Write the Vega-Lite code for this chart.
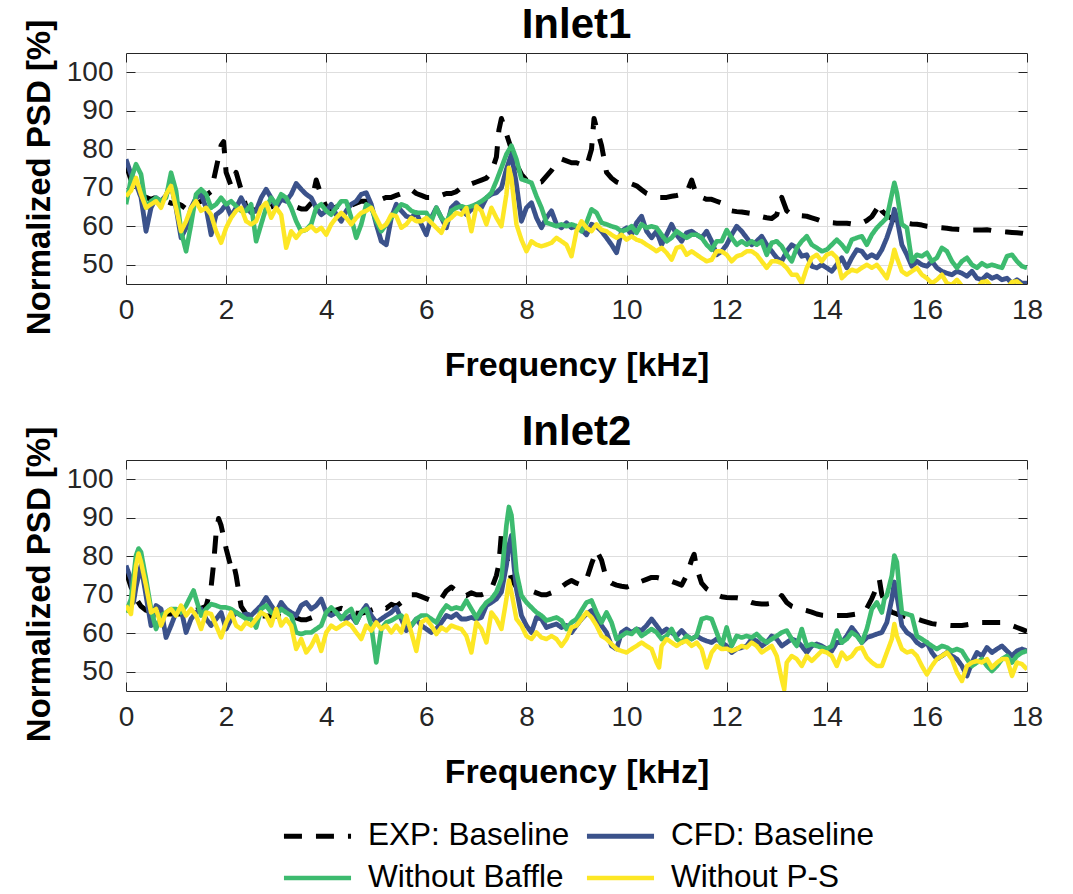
{
"$schema": "https://vega.github.io/schema/vega-lite/v6.json",
"background": "white",
"padding": {"left": 22, "top": 3, "right": 30, "bottom": 0},
"spacing": 27,
"config": {
  "font": "Liberation Sans",
  "view": {"stroke": "#262626", "strokeWidth": 1},
  "title": {"fontSize": 42, "fontWeight": "bold", "color": "#000000", "offset": -28, "anchor": "middle", "font": "Liberation Sans"},
  "axis": {"labelFont": "Liberation Sans", "titleFont": "Liberation Sans", "labelFontSize": 28, "labelColor": "#262626", "tickColor": "#262626", "tickSize": -9, "tickWidth": 1, "gridColor": "#dedede", "gridWidth": 1, "domain": false, "titleFontSize": 33, "titleFontWeight": "bold", "titleColor": "#000000", "labelFlush": false}
},
"datasets": {
"in1": [
{"f":0,"a":76,"b":77.4,"c":65.7,"d":67.8},
{"f":0.1,"a":72,"b":73.5,"c":72.2,"d":69.2},
{"f":0.2,"a":70,"b":71,"c":76.1,"d":72.6},
{"f":0.3,"a":68,"b":67.5,"c":73.5,"d":68.3},
{"f":0.4,"a":67.5,"b":58.7,"c":64.8,"d":64.8},
{"f":0.5,"a":67,"b":64.8,"c":66.5,"d":65.7},
{"f":0.6,"a":67.5,"b":67.4,"c":67.4,"d":66.5},
{"f":0.7,"a":67,"b":66.5,"c":66.5,"d":64.8},
{"f":0.8,"a":66.5,"b":68,"c":67.4,"d":68.3},
{"f":0.9,"a":66,"b":71,"c":73.9,"d":70.5},
{"f":1,"a":66,"b":64.8,"c":69.2,"d":64.8},
{"f":1.1,"a":65.5,"b":57,"c":58.7,"d":58.7},
{"f":1.2,"a":64.5,"b":59.6,"c":53.5,"d":61.3},
{"f":1.3,"a":65,"b":64.8,"c":60.5,"d":64.8},
{"f":1.4,"a":66,"b":67.4,"c":68.3,"d":66.5},
{"f":1.5,"a":66.5,"b":68.3,"c":69.6,"d":64},
{"f":1.6,"a":68,"b":64.8,"c":68.3,"d":64.8},
{"f":1.7,"a":69,"b":57.8,"c":64.8,"d":63},
{"f":1.8,"a":75,"b":63,"c":65.7,"d":58.7},
{"f":1.9,"a":81,"b":64,"c":67.4,"d":55.7},
{"f":1.95,"a":82},
{"f":2,"a":74,"b":65.7,"c":65.7,"d":59.6},
{"f":2.1,"a":70.5,"b":62.6,"c":66.5,"d":62.2},
{"f":2.2,"a":74,"b":64.8,"c":65.2,"d":64},
{"f":2.3,"a":69.5,"b":67.4,"c":64,"d":64.8},
{"f":2.4,"a":65,"b":64.8,"c":64,"d":61.3},
{"f":2.5,"a":64.5,"b":63.5,"c":65.7,"d":60.5},
{"f":2.6,"a":64,"b":64,"c":56.1,"d":61.3},
{"f":2.7,"a":64,"b":67.4,"c":60.5,"d":64.8},
{"f":2.8,"a":64.5,"b":69.6,"c":64.8,"d":66.1},
{"f":2.9,"a":65,"b":67.4,"c":67.4,"d":62.2},
{"f":3,"a":66,"b":64.8,"c":65.7,"d":64.8},
{"f":3.1,"a":67,"b":67,"c":68.3,"d":63},
{"f":3.2,"a":67,"b":66.5,"c":67.4,"d":54.4},
{"f":3.3,"a":66,"b":68.3,"c":64.8,"d":58.7},
{"f":3.4,"a":65,"b":71.1,"c":61.3,"d":57},
{"f":3.5,"a":64.5,"b":69.6,"c":58.7,"d":58.7},
{"f":3.6,"a":64.5,"b":68.3,"c":59.1,"d":59.1},
{"f":3.7,"a":66,"b":67.4,"c":60.5,"d":60},
{"f":3.8,"a":72,"b":64.8,"c":64.8,"d":58.7},
{"f":3.9,"a":68,"b":63,"c":65.7,"d":59.6},
{"f":4,"a":65,"b":64,"c":64,"d":57.8},
{"f":4.1,"a":64.5,"b":65.7,"c":63,"d":60.5},
{"f":4.2,"a":65,"b":63,"c":64.8,"d":62.2},
{"f":4.3,"a":65.5,"b":61.3,"c":66.5,"d":63.5},
{"f":4.4,"a":65.5,"b":64,"c":66.5,"d":62.2},
{"f":4.5,"a":65.5,"b":65.7,"c":62.2,"d":60.5},
{"f":4.6,"a":66,"b":66.5,"c":57,"d":62.2},
{"f":4.7,"a":66.5,"b":68.3,"c":60.5,"d":63.5},
{"f":4.8,"a":66.5,"b":68.7,"c":65.7,"d":64},
{"f":4.9,"a":66.5,"b":65.7,"c":64.8,"d":64.8},
{"f":5,"a":67,"b":60.5,"c":61.3,"d":62.2},
{"f":5.1,"a":67,"b":56.1,"c":58.7,"d":59.6},
{"f":5.2,"a":67.5,"b":55.2,"c":60.5,"d":60.5},
{"f":5.3,"a":67.5,"b":62.2,"c":62.2,"d":63},
{"f":5.4,"a":68,"b":65.7,"c":64,"d":62.6},
{"f":5.5,"a":68.5,"b":64,"c":65.7,"d":59.6},
{"f":5.6,"a":69,"b":62.6,"c":65.2,"d":60.5},
{"f":5.7,"a":69.5,"b":62.2,"c":64,"d":62.2},
{"f":5.8,"a":68.5,"b":63.5,"c":63.5,"d":61.3},
{"f":5.9,"a":68,"b":60.5,"c":63.5,"d":61.3},
{"f":6,"a":67.5,"b":57.8,"c":63.5,"d":62.2},
{"f":6.1,"a":67.5,"b":62.2,"c":61.3,"d":60.9},
{"f":6.2,"a":67.5,"b":64.8,"c":64.8,"d":59.6},
{"f":6.3,"a":68,"b":62.2,"c":62.2,"d":58.3},
{"f":6.4,"a":68.5,"b":59.6,"c":60.9,"d":61.3},
{"f":6.5,"a":68.5,"b":64.8,"c":64,"d":62.2},
{"f":6.6,"a":69,"b":66.1,"c":64.8,"d":63.5},
{"f":6.7,"a":70,"b":64.8,"c":65.2,"d":63},
{"f":6.8,"a":70.5,"b":63,"c":64.8,"d":64.8},
{"f":6.9,"a":71,"b":64.4,"c":65.2,"d":58.7},
{"f":7,"a":71.5,"b":65.7,"c":65.7,"d":65.2},
{"f":7.1,"a":72,"b":64.8,"c":66.5,"d":64},
{"f":7.2,"a":72.5,"b":67.4,"c":67.4,"d":60.5},
{"f":7.3,"a":74,"b":68.3,"c":68.7,"d":64.8},
{"f":7.4,"a":78,"b":68.7,"c":71.8,"d":62.2},
{"f":7.45,"a":85},
{"f":7.5,"a":88,"b":70,"c":75.2,"d":60},
{"f":7.6,"a":84,"b":74.8,"c":78.7,"d":68.3},
{"f":7.65,"d":75.2},
{"f":7.7,"a":80,"b":78.7,"c":80.9,"d":72.6},
{"f":7.8,"a":76,"b":70.9,"c":77.4,"d":60.5},
{"f":7.9,"a":73.5,"b":61.3,"c":72.2,"d":56.5},
{"f":8,"a":72,"b":64.8,"c":71.8,"d":53.5},
{"f":8.1,"a":71.5,"b":66.1,"c":71.3,"d":56.1},
{"f":8.2,"a":71.3,"b":62.2,"c":67.8,"d":55.2},
{"f":8.3,"a":71.5,"b":59.6,"c":64.8,"d":54.8},
{"f":8.4,"a":73,"b":62.2,"c":60.9,"d":55.2},
{"f":8.5,"a":74.5,"b":64,"c":60.5,"d":55.7},
{"f":8.6,"a":76.5,"b":60.5,"c":60,"d":57},
{"f":8.7,"a":77.5,"b":59.6,"c":60.5,"d":56.1},
{"f":8.8,"a":77,"b":60.9,"c":60,"d":55.2},
{"f":8.9,"a":76.5,"b":59.6,"c":60.5,"d":52.2},
{"f":9,"a":76.5,"b":60,"c":60,"d":58.7},
{"f":9.1,"a":76,"b":59.1,"c":58.7,"d":61.3},
{"f":9.2,"a":75.5,"b":57.8,"c":60.9,"d":59.6},
{"f":9.3,"a":80,"b":60.5,"c":64.4,"d":58.7},
{"f":9.35,"a":88},
{"f":9.4,"a":85.5,"b":60,"c":63.5,"d":60.5},
{"f":9.5,"a":81,"b":58.7,"c":60.9,"d":59.1},
{"f":9.6,"a":74,"b":57,"c":60.5,"d":58.7},
{"f":9.7,"a":72.5,"b":55.2,"c":60,"d":57.8},
{"f":9.8,"a":71.5,"b":53.1,"c":59.6,"d":57},
{"f":9.9,"a":71,"b":58.7,"c":58.7,"d":57.8},
{"f":10,"a":71,"b":59.6,"c":59.1,"d":56.5},
{"f":10.1,"a":71,"b":57.8,"c":60,"d":57.4},
{"f":10.2,"a":70.5,"b":60.9,"c":58.3,"d":56.5},
{"f":10.3,"a":69.5,"b":62.6,"c":60.5,"d":56.1},
{"f":10.4,"a":68.5,"b":58.7,"c":59.6,"d":55.2},
{"f":10.5,"a":68,"b":57,"c":60,"d":54.4},
{"f":10.6,"a":67.5,"b":58.7,"c":59.6,"d":53.5},
{"f":10.7,"a":67.5,"b":55.2,"c":57.8,"d":54.4},
{"f":10.8,"a":67.5,"b":57.8,"c":56.1,"d":53.1},
{"f":10.9,"a":67.8,"b":60.5,"c":57,"d":51.3},
{"f":11,"a":68,"b":57.8,"c":58.7,"d":54.4},
{"f":11.1,"a":68.3,"b":56.1,"c":57.8,"d":54.8},
{"f":11.2,"a":68.7,"b":58.3,"c":57,"d":52.6},
{"f":11.3,"a":72,"b":58.7,"c":57.8,"d":53.5},
{"f":11.4,"a":68,"b":57.8,"c":57.8,"d":52.6},
{"f":11.5,"a":67.5,"b":57,"c":57,"d":51.7},
{"f":11.6,"a":67,"b":58.7,"c":55.2,"d":50.9},
{"f":11.7,"a":67,"b":56.1,"c":53.9,"d":51.3},
{"f":11.8,"a":66.5,"b":52.6,"c":56.1,"d":53.5},
{"f":11.9,"a":66,"b":53.5,"c":56.1,"d":53.5},
{"f":12,"a":65,"b":55.2,"c":59,"d":52.6},
{"f":12.1,"a":64,"b":57.8,"c":57,"d":50.9},
{"f":12.2,"a":63.8,"b":60,"c":55.2,"d":52.2},
{"f":12.3,"a":63.7,"b":58.7,"c":56.1,"d":52.6},
{"f":12.4,"a":63.5,"b":57,"c":55.2,"d":53.5},
{"f":12.5,"a":63.3,"b":55.2,"c":56.1,"d":53.5},
{"f":12.6,"a":63,"b":56.1,"c":55.2,"d":52.6},
{"f":12.7,"a":62.5,"b":57.4,"c":56.1,"d":50.9},
{"f":12.8,"a":62.2,"b":55.2,"c":52.6,"d":49.2},
{"f":12.9,"a":62,"b":53.5,"c":55.7,"d":50.9},
{"f":13,"a":63,"b":51.8,"c":56.1,"d":50.9},
{"f":13.1,"a":67.5,"b":50.9,"c":54.8,"d":50.4},
{"f":13.2,"a":64,"b":53.5,"c":52.6,"d":49.2},
{"f":13.3,"a":63,"b":55.2,"c":50.9,"d":47.4},
{"f":13.4,"a":62.8,"b":54.4,"c":54.4,"d":47.4},
{"f":13.5,"a":62.7,"b":52.2,"c":56.1,"d":45.2},
{"f":13.6,"a":62.6,"b":52.6,"c":57.4,"d":49.2},
{"f":13.7,"a":62.2,"b":49.6,"c":55.2,"d":51.8},
{"f":13.8,"a":61.8,"b":49.2,"c":54.4,"d":52.6},
{"f":13.9,"a":61.3,"b":50,"c":53.5,"d":50.9},
{"f":14,"a":61,"b":49.2,"c":53.9,"d":52.6},
{"f":14.1,"a":60.9,"b":48.3,"c":55.2,"d":53.1},
{"f":14.2,"a":60.8,"b":50,"c":56.5,"d":51.8},
{"f":14.3,"a":60.8,"b":51.8,"c":55.2,"d":46.5},
{"f":14.4,"a":60.8,"b":49.2,"c":53.5,"d":47.8},
{"f":14.5,"a":60.6,"b":51.8,"c":56.5,"d":48.7},
{"f":14.6,"a":60.6,"b":53.9,"c":57,"d":48.3},
{"f":14.7,"a":60.8,"b":53.5,"c":57.4,"d":49.2},
{"f":14.8,"a":61.5,"b":51.8,"c":55.2,"d":50},
{"f":14.9,"a":62.5,"b":52.6,"c":57.8,"d":49.2},
{"f":15,"a":64.5,"b":51.8,"c":59.6,"d":50},
{"f":15.05,"a":66},
{"f":15.1,"a":64,"b":53.9,"c":60.9,"d":48.3},
{"f":15.2,"a":62.8,"b":57,"c":62.2,"d":46.5},
{"f":15.3,"a":62,"b":60.9,"c":68.3,"d":50.9},
{"f":15.35,"b":64.4,"c":71.3,"d":53.9},
{"f":15.4,"a":61.5,"b":62.2,"c":68.7,"d":51.8},
{"f":15.5,"a":61,"b":55.2,"c":60.5,"d":48.3},
{"f":15.6,"a":60.8,"b":52.6,"c":59.6,"d":47.4},
{"f":15.7,"a":60.6,"b":49.6,"c":50.9,"d":48.3},
{"f":15.8,"a":60.5,"b":50.9,"c":52.6,"d":49.2},
{"f":15.9,"a":60.3,"b":50,"c":52.2,"d":47.4},
{"f":16,"a":60,"b":49.6,"c":53.1,"d":46.5},
{"f":16.1,"a":59.8,"b":50.9,"c":50.9,"d":45.2},
{"f":16.2,"a":59.7,"b":49.2,"c":51.8,"d":46.1},
{"f":16.3,"a":59.6,"b":48.3,"c":54.4,"d":47.4},
{"f":16.4,"a":59.5,"b":47.8,"c":53.5,"d":45.2},
{"f":16.5,"a":59.3,"b":47.4,"c":50.9,"d":44.8},
{"f":16.6,"a":59.2,"b":48.3,"c":49.2,"d":46.1},
{"f":16.7,"a":59.1,"b":47.8,"c":50.9,"d":44.5},
{"f":16.8,"a":59,"b":47,"c":51.8,"d":44},
{"f":16.9,"a":59,"b":48.3,"c":50,"d":43.5},
{"f":17,"a":59,"b":46.5,"c":49.2,"d":44},
{"f":17.1,"a":59,"b":46.1,"c":50.4,"d":45.5},
{"f":17.2,"a":59.1,"b":47.4,"c":49.6,"d":45.7},
{"f":17.3,"a":58.9,"b":46.5,"c":50,"d":44},
{"f":17.4,"a":58.7,"b":47,"c":49.6,"d":43.5},
{"f":17.5,"a":58.6,"b":46.1,"c":49.2,"d":43.5},
{"f":17.6,"a":58.5,"b":46.5,"c":52.2,"d":44},
{"f":17.7,"a":58.4,"b":45.2,"c":52.6,"d":45.5},
{"f":17.8,"a":58.3,"b":46.1,"c":50.9,"d":45.7},
{"f":17.9,"a":58.2,"b":45.2,"c":49.6,"d":44.5},
{"f":18,"a":58,"b":45.2,"c":49.2,"d":44}
],
"in2": [
{"f":0,"a":76,"b":77.6,"c":65.4,"d":67.2},
{"f":0.1,"a":72,"b":74,"c":68.9,"d":65},
{"f":0.15,"b":68},
{"f":0.2,"a":69,"b":72,"c":80.2,"d":77.6},
{"f":0.25,"c":82,"d":80.7},
{"f":0.3,"a":67,"b":77.6,"c":81.1,"d":78.5},
{"f":0.4,"a":66,"b":69.8,"c":74.1,"d":72.4},
{"f":0.5,"a":65.5,"b":62,"c":66.3,"d":65.4},
{"f":0.6,"a":65,"b":67.2,"c":61.1,"d":66.3},
{"f":0.7,"a":65,"b":66.3,"c":64.6,"d":62},
{"f":0.8,"a":65,"b":58.9,"c":65.4,"d":65.4},
{"f":0.9,"a":65,"b":62,"c":66.3,"d":66.3},
{"f":1,"a":65,"b":65.4,"c":66.3,"d":64.6},
{"f":1.1,"a":65,"b":66.3,"c":65.4,"d":67.2},
{"f":1.2,"a":65,"b":60.2,"c":67.2,"d":64.6},
{"f":1.3,"a":65.5,"b":63.7,"c":69.8,"d":66.3},
{"f":1.35,"c":71.1},
{"f":1.4,"a":66,"b":65.4,"c":68.9,"d":64.6},
{"f":1.5,"a":66.5,"b":66.3,"c":64.6,"d":61.1},
{"f":1.6,"a":67,"b":63.7,"c":66.3,"d":65.4},
{"f":1.7,"a":72,"b":62,"c":67.6,"d":65},
{"f":1.75,"a":78},
{"f":1.8,"a":86,"b":63.7,"c":67.2,"d":62},
{"f":1.85,"a":89.8},
{"f":1.9,"a":88,"b":65.4,"c":66.7,"d":58.9},
{"f":2,"a":82,"b":61.1,"c":66.7,"d":62.8},
{"f":2.1,"a":77,"b":63.7,"c":66.3,"d":65.4},
{"f":2.15,"a":78},
{"f":2.2,"a":75,"b":65.4,"c":65.4,"d":62},
{"f":2.3,"a":67,"b":64.6,"c":64.6,"d":61.1},
{"f":2.4,"a":65,"b":65,"c":63.7,"d":62.8},
{"f":2.5,"a":64.5,"b":64.6,"c":63.7,"d":62},
{"f":2.6,"a":64.5,"b":65.9,"c":61.5,"d":63.7},
{"f":2.7,"a":64.5,"b":67.2,"c":66.3,"d":65.4},
{"f":2.8,"a":64.5,"b":69.3,"c":67.2,"d":64.6},
{"f":2.9,"a":64.5,"b":67.2,"c":65.4,"d":62},
{"f":3,"a":64.5,"b":65.4,"c":64.6,"d":66.3},
{"f":3.1,"a":64.3,"b":68,"c":66.3,"d":62},
{"f":3.2,"a":64,"b":66.3,"c":65.4,"d":63.7},
{"f":3.3,"a":64,"b":65.4,"c":64.6,"d":62},
{"f":3.4,"a":64,"b":64.6,"c":60.2,"d":55.9},
{"f":3.5,"a":63.5,"b":67.2,"c":59.8,"d":58.5},
{"f":3.6,"a":63.5,"b":68,"c":60.2,"d":55},
{"f":3.7,"a":64,"b":66.3,"c":60.2,"d":56.7},
{"f":3.8,"a":64.5,"b":67.2,"c":61.1,"d":59.3},
{"f":3.9,"a":64.8,"b":68.9,"c":62,"d":55.4},
{"f":4,"a":65,"b":65.4,"c":65.4,"d":60.2},
{"f":4.1,"a":65.5,"b":64.6,"c":66.7,"d":62},
{"f":4.2,"a":66,"b":65.4,"c":65.4,"d":61.1},
{"f":4.3,"a":66.5,"b":64.1,"c":63.7,"d":62},
{"f":4.4,"a":66,"b":63.7,"c":65.4,"d":62.8},
{"f":4.5,"a":65.5,"b":64.6,"c":66.3,"d":62},
{"f":4.6,"a":65.2,"b":62.8,"c":62.8,"d":60.2},
{"f":4.7,"a":65.2,"b":65.4,"c":65.4,"d":58.5},
{"f":4.8,"a":65.5,"b":67.2,"c":66.3,"d":62},
{"f":4.9,"a":66,"b":64.6,"c":62,"d":60.7},
{"f":5,"a":66.5,"b":62.8,"c":52.4,"d":62.8},
{"f":5.1,"a":67,"b":63.7,"c":61.1,"d":61.1},
{"f":5.2,"a":66.5,"b":64.6,"c":62.8,"d":62},
{"f":5.3,"a":67.5,"b":65.4,"c":63.3,"d":60.2},
{"f":5.4,"a":67,"b":66.7,"c":64.1,"d":62},
{"f":5.5,"a":68,"b":63.7,"c":64.6,"d":60.2},
{"f":5.6,"a":69.5,"b":60.7,"c":62.8,"d":64.6},
{"f":5.7,"a":70,"b":62,"c":62,"d":60.2},
{"f":5.8,"a":70,"b":63.7,"c":63.7,"d":55.4},
{"f":5.9,"a":69.5,"b":62,"c":64.6,"d":62.8},
{"f":6,"a":69,"b":61.1,"c":64.6,"d":63.7},
{"f":6.1,"a":68.5,"b":60.2,"c":63.7,"d":62},
{"f":6.2,"a":68.5,"b":61.1,"c":62.8,"d":59.8},
{"f":6.3,"a":69,"b":62.8,"c":65.4,"d":61.5},
{"f":6.4,"a":71,"b":64.6,"c":67.2,"d":60.7},
{"f":6.5,"a":72,"b":64.1,"c":66.3,"d":62},
{"f":6.6,"a":71,"b":65,"c":66.7,"d":61.5},
{"f":6.7,"a":70,"b":63.7,"c":66.3,"d":61.1},
{"f":6.8,"a":69.8,"b":63.7,"c":68.5,"d":59.3},
{"f":6.9,"a":70.5,"b":64.1,"c":66.3,"d":55},
{"f":7,"a":70,"b":63.7,"c":64.1,"d":62.8},
{"f":7.1,"a":70,"b":64.1,"c":66.3,"d":61.1},
{"f":7.2,"a":70.5,"b":67.2,"c":68,"d":57.6},
{"f":7.3,"a":71.5,"b":68,"c":68.9,"d":65.4},
{"f":7.4,"a":75,"b":68.9,"c":70.7,"d":63.7},
{"f":7.45,"a":78},
{"f":7.5,"a":86,"b":70.7,"c":74.1,"d":61.1},
{"f":7.55,"a":84,"c":81.1},
{"f":7.6,"a":80,"b":77.6,"c":88,"d":68.9},
{"f":7.65,"b":82.8,"c":92.8,"d":73.7},
{"f":7.7,"a":74,"b":85.4,"c":90.7,"d":70.7},
{"f":7.75,"b":77.6,"c":83.7},
{"f":7.8,"a":72,"b":71.5,"c":75.9,"d":63.7},
{"f":7.9,"a":71.5,"b":64.6,"c":69.8,"d":62},
{"f":8,"a":71.5,"b":62,"c":68,"d":59.3},
{"f":8.1,"a":71,"b":60.2,"c":66.7,"d":58.5},
{"f":8.2,"a":70.5,"b":64.1,"c":65.4,"d":60.2},
{"f":8.3,"a":70,"b":63.7,"c":64.6,"d":58.9},
{"f":8.4,"a":70,"b":61.5,"c":63.3,"d":58.5},
{"f":8.5,"a":70.5,"b":62,"c":63.7,"d":59.3},
{"f":8.6,"a":71,"b":62.4,"c":64.1,"d":58.5},
{"f":8.7,"a":72,"b":61.5,"c":63.3,"d":56.7},
{"f":8.8,"a":73,"b":62,"c":61.1,"d":58.5},
{"f":8.9,"a":73.7,"b":60.2,"c":62.8,"d":61.5},
{"f":9,"a":73,"b":62,"c":63.7,"d":62},
{"f":9.1,"a":72.5,"b":63.7,"c":65.9,"d":63.7},
{"f":9.2,"a":74,"b":65,"c":68,"d":65.4},
{"f":9.3,"a":78,"b":65.9,"c":68.5,"d":64.1},
{"f":9.4,"a":81.5,"b":63.7,"c":65.4,"d":62},
{"f":9.5,"a":79,"b":62,"c":62.8,"d":59.3},
{"f":9.6,"a":74,"b":60.2,"c":65.4,"d":58.5},
{"f":9.7,"a":73,"b":56.7,"c":62.8,"d":57.2},
{"f":9.8,"a":72.5,"b":55.9,"c":58.5,"d":55.9},
{"f":9.9,"a":72.2,"b":60.2,"c":59.3,"d":55.4},
{"f":10,"a":72,"b":61.1,"c":60.2,"d":55},
{"f":10.1,"a":72.5,"b":60.2,"c":59.8,"d":55.9},
{"f":10.2,"a":73,"b":61.1,"c":61.1,"d":56.7},
{"f":10.3,"a":73.5,"b":60.7,"c":59.3,"d":57.6},
{"f":10.4,"a":74,"b":62,"c":60.2,"d":56.7},
{"f":10.5,"a":74.5,"b":63.7,"c":61.1,"d":55.9},
{"f":10.6,"a":74.5,"b":62,"c":60.2,"d":52.4},
{"f":10.65,"d":51.1},
{"f":10.7,"a":74.2,"b":60.2,"c":58.5,"d":56.7},
{"f":10.8,"a":73.8,"b":61.1,"c":59.3,"d":58.5},
{"f":10.9,"a":73.5,"b":60.2,"c":61.1,"d":57.6},
{"f":11,"a":73,"b":59.3,"c":58.5,"d":56.7},
{"f":11.1,"a":72.5,"b":60.7,"c":57.6,"d":57.6},
{"f":11.2,"a":75,"b":59.3,"c":59.3,"d":58},
{"f":11.3,"a":79,"b":58.5,"c":58.5,"d":56.7},
{"f":11.35,"a":80.5},
{"f":11.4,"a":77,"b":59.3,"c":59.3,"d":57.6},
{"f":11.5,"a":73,"b":58.5,"c":63.7,"d":55.9},
{"f":11.6,"a":71.5,"b":58,"c":64.1,"d":51.1},
{"f":11.7,"a":70.7,"b":57.6,"c":63.7,"d":55},
{"f":11.8,"a":70,"b":58.5,"c":60.2,"d":56.7},
{"f":11.9,"a":69.5,"b":57.6,"c":56.7,"d":55.9},
{"f":12,"a":69.3,"b":56.7,"c":61.5,"d":56},
{"f":12.1,"a":69.2,"b":55,"c":56.7,"d":55.4},
{"f":12.2,"a":69.2,"b":55.9,"c":59.3,"d":55.9},
{"f":12.3,"a":69,"b":56.3,"c":58.9,"d":56.7},
{"f":12.4,"a":68.5,"b":56.7,"c":59.3,"d":56.3},
{"f":12.5,"a":68,"b":58.5,"c":58.9,"d":57.6},
{"f":12.6,"a":67.7,"b":58,"c":59.8,"d":56.7},
{"f":12.7,"a":67.6,"b":56.7,"c":58.5,"d":55},
{"f":12.8,"a":67.6,"b":57.6,"c":57.6,"d":55.9},
{"f":12.9,"a":67.8,"b":59.3,"c":58.5,"d":56.7},
{"f":13,"a":68,"b":58.5,"c":59.3,"d":54.1},
{"f":13.1,"a":69.8,"b":56.7,"c":60.2,"d":48},
{"f":13.15,"d":45.4},
{"f":13.2,"a":68,"b":57.6,"c":60.7,"d":52.4},
{"f":13.3,"a":67,"b":58.5,"c":58.5,"d":54.1},
{"f":13.4,"a":66.5,"b":58,"c":56.7,"d":53.3},
{"f":13.5,"a":66.2,"b":56.7,"c":61.1,"d":51.5},
{"f":13.6,"a":65.9,"b":55,"c":56.7,"d":54.1},
{"f":13.7,"a":65.5,"b":56.7,"c":57.2,"d":52.8},
{"f":13.8,"a":65,"b":57.2,"c":56.7,"d":54.1},
{"f":13.9,"a":64.7,"b":56.7,"c":56.3,"d":55.4},
{"f":14,"a":64.6,"b":55.9,"c":55.9,"d":55},
{"f":14.1,"a":64.6,"b":55.4,"c":56.7,"d":54.1},
{"f":14.2,"a":64.6,"b":57.6,"c":60.7,"d":51.5},
{"f":14.3,"a":64.6,"b":57.6,"c":57.6,"d":55},
{"f":14.4,"a":64.6,"b":59.3,"c":58.5,"d":53.3},
{"f":14.5,"a":64.8,"b":61.5,"c":60.2,"d":54.1},
{"f":14.6,"a":65,"b":59.8,"c":59.3,"d":55.9},
{"f":14.7,"a":65.3,"b":57.6,"c":57.6,"d":56.3},
{"f":14.8,"a":66.5,"b":58.9,"c":61.1,"d":53.7},
{"f":14.9,"a":69,"b":59.3,"c":66.3,"d":52.4},
{"f":15,"a":72,"b":59.8,"c":68,"d":51.5},
{"f":15.05,"a":74},
{"f":15.1,"a":70,"b":60.2,"c":65.4,"d":51.5},
{"f":15.15,"c":68.9},
{"f":15.2,"a":66.5,"b":62.8,"c":69.8,"d":55},
{"f":15.3,"a":65.5,"b":68.9,"c":75,"d":58.5},
{"f":15.35,"b":73.3,"c":80.2,"d":62.4},
{"f":15.4,"a":65,"b":69.8,"c":78.5,"d":59.3},
{"f":15.45,"c":71.5},
{"f":15.5,"a":64.6,"b":62,"c":65.4,"d":55.9},
{"f":15.6,"a":64.2,"b":60.2,"c":65,"d":55},
{"f":15.7,"a":63.9,"b":59.3,"c":64.6,"d":55.4},
{"f":15.8,"a":63.7,"b":57.6,"c":59.3,"d":54.1},
{"f":15.9,"a":63.3,"b":56.7,"c":58.5,"d":51.5},
{"f":16,"a":62.9,"b":57.6,"c":57.6,"d":49.3},
{"f":16.1,"a":62.5,"b":55,"c":56.7,"d":51.5},
{"f":16.2,"a":62.3,"b":53.3,"c":55.9,"d":53.3},
{"f":16.3,"a":62.2,"b":54.1,"c":56.7,"d":54.1},
{"f":16.4,"a":62.1,"b":55,"c":56.3,"d":55},
{"f":16.5,"a":62,"b":54.1,"c":55.4,"d":53.3},
{"f":16.6,"a":62,"b":53.3,"c":55.9,"d":49.8},
{"f":16.7,"a":62,"b":51.5,"c":55.4,"d":47.6},
{"f":16.8,"a":62.2,"b":48.9,"c":53.3,"d":51.5},
{"f":16.9,"a":62.4,"b":52.4,"c":51.5,"d":52.4},
{"f":17,"a":62.6,"b":55,"c":52.4,"d":52.8},
{"f":17.1,"a":62.8,"b":54.1,"c":53.3,"d":52.4},
{"f":17.2,"a":62.8,"b":56.3,"c":51.5,"d":53.3},
{"f":17.3,"a":62.8,"b":55,"c":50.2,"d":51.1},
{"f":17.4,"a":62.8,"b":55.9,"c":51.5,"d":52.4},
{"f":17.5,"a":62.8,"b":56.7,"c":53.3,"d":53.3},
{"f":17.6,"a":62.5,"b":55.4,"c":54.1,"d":53.3},
{"f":17.7,"a":62,"b":54.1,"c":52.4,"d":48.9},
{"f":17.8,"a":61.5,"b":55.4,"c":54.1,"d":52.4},
{"f":17.9,"a":61,"b":55.9,"c":55,"d":52},
{"f":18,"a":60.5,"b":55.4,"c":55.4,"d":50.6}
]
},
"vconcat": [
{
  "title": "Inlet1",
  "width": 901, "height": 231,
  "data": {"name": "in1"},
  "transform": [{"fold": ["a","b","c","d"], "as": ["s","v"]}],
  "layer": [
    {
      "mark": {"type": "line", "clip": true, "invalid": "filter", "strokeJoin": "round"},
      "encoding": {
        "x": {"field": "f", "type": "quantitative", "scale": {"domain": [0,18], "nice": false, "zero": false},
              "axis": {"orient": "bottom", "values": [0,2,4,6,8,10,12,14,16,18], "labelPadding": 21, "title": "Frequency [kHz]", "titleFontSize": 34, "titlePadding": 24, "grid": true}},
        "y": {"field": "v", "type": "quantitative", "scale": {"domain": [45,105], "nice": false, "zero": false},
              "axis": {"orient": "left", "values": [50,60,70,80,90,100], "labelPadding": 22, "title": "Normalized PSD [%]", "titlePadding": 10, "titleY": 124, "grid": true}},
        "color": {"field": "s", "type": "nominal", "scale": {"domain": ["a","b","c","d"], "range": ["#000000","#3b528b","#3dbb6f","#fde725"]},
                  "legend": {"orient": "none", "legendX": 155, "legendY": 768, "columns": 2, "direction": "horizontal", "title": null, "symbolType": "stroke", "symbolSize": 4500, "symbolStrokeWidth": 4.5, "clipHeight": 30, "labelFontSize": 31.5, "labelColor": "#000000", "labelFont": "Liberation Sans", "labelOffset": 14, "rowPadding": 10, "columnPadding": 14, "labelLimit": 400,
                             "labelExpr": "datum.label == 'a' ? 'EXP: Baseline' : datum.label == 'b' ? 'CFD: Baseline' : datum.label == 'c' ? 'Without Baffle' : 'Without P-S'"}},
        "strokeDash": {"field": "s", "type": "nominal", "scale": {"domain": ["a","b","c","d"], "range": [[18,14],[1,0],[1,0],[1,0]]}},
        "strokeWidth": {"field": "s", "type": "nominal", "scale": {"domain": ["a","b","c","d"], "range": [5,4.5,4.5,4.5]}, "legend": null}
      }
    },
    {
      "mark": {"type": "point", "opacity": 0},
      "encoding": {
        "x": {"field": "f", "type": "quantitative", "axis": {"orient": "top", "values": [0,2,4,6,8,10,12,14,16,18], "labels": false, "grid": false, "title": null}},
        "y": {"field": "v", "type": "quantitative", "axis": {"orient": "right", "values": [50,60,70,80,90,100], "labels": false, "grid": false, "title": null}}
      }
    }
  ],
  "resolve": {"axis": {"x": "independent", "y": "independent"}}
},
{
  "title": "Inlet2",
  "width": 901, "height": 231,
  "data": {"name": "in2"},
  "transform": [{"fold": ["a","b","c","d"], "as": ["s","v"]}],
  "layer": [
    {
      "mark": {"type": "line", "clip": true, "invalid": "filter", "strokeJoin": "round"},
      "encoding": {
        "x": {"field": "f", "type": "quantitative", "scale": {"domain": [0,18], "nice": false, "zero": false},
              "axis": {"orient": "bottom", "values": [0,2,4,6,8,10,12,14,16,18], "labelPadding": 21, "title": "Frequency [kHz]", "titleFontSize": 34, "titlePadding": 24, "grid": true}},
        "y": {"field": "v", "type": "quantitative", "scale": {"domain": [45,105], "nice": false, "zero": false},
              "axis": {"orient": "left", "values": [50,60,70,80,90,100], "labelPadding": 22, "title": "Normalized PSD [%]", "titlePadding": 10, "titleY": 124, "grid": true}},
        "color": {"field": "s", "type": "nominal", "scale": {"domain": ["a","b","c","d"], "range": ["#000000","#3b528b","#3dbb6f","#fde725"]},
                  "legend": {"orient": "none", "legendX": 155, "legendY": 768, "columns": 2, "direction": "horizontal", "title": null, "symbolType": "stroke", "symbolSize": 4500, "symbolStrokeWidth": 4.5, "clipHeight": 30, "labelFontSize": 31.5, "labelColor": "#000000", "labelFont": "Liberation Sans", "labelOffset": 14, "rowPadding": 10, "columnPadding": 14, "labelLimit": 400,
                             "labelExpr": "datum.label == 'a' ? 'EXP: Baseline' : datum.label == 'b' ? 'CFD: Baseline' : datum.label == 'c' ? 'Without Baffle' : 'Without P-S'"}},
        "strokeDash": {"field": "s", "type": "nominal", "scale": {"domain": ["a","b","c","d"], "range": [[18,14],[1,0],[1,0],[1,0]]}},
        "strokeWidth": {"field": "s", "type": "nominal", "scale": {"domain": ["a","b","c","d"], "range": [5,4.5,4.5,4.5]}, "legend": null}
      }
    },
    {
      "mark": {"type": "point", "opacity": 0},
      "encoding": {
        "x": {"field": "f", "type": "quantitative", "axis": {"orient": "top", "values": [0,2,4,6,8,10,12,14,16,18], "labels": false, "grid": false, "title": null}},
        "y": {"field": "v", "type": "quantitative", "axis": {"orient": "right", "values": [50,60,70,80,90,100], "labels": false, "grid": false, "title": null}}
      }
    }
  ],
  "resolve": {"axis": {"x": "independent", "y": "independent"}}
}
],
"resolve": {"scale": {"color": "shared", "strokeDash": "shared", "strokeWidth": "shared"}, "legend": {"color": "shared", "strokeDash": "shared"}}
}
